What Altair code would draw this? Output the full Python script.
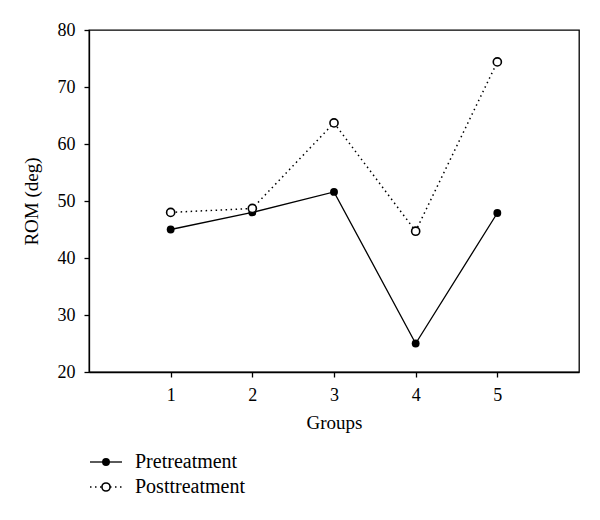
import altair as alt
import pandas as pd

groups = [1, 2, 3, 4, 5]
pretreatment = [45.0, 48.0, 51.6, 25.0, 47.9]
posttreatment = [48.0, 48.7, 63.7, 44.7, 74.4]
series_names = ["Pretreatment", "Posttreatment"]
y_ticks = [20, 30, 40, 50, 60, 70, 80]

pre_df = pd.DataFrame({"group": groups, "rom": pretreatment})
post_df = pd.DataFrame({"group": groups, "rom": posttreatment})
leg_pre = pd.DataFrame({"name": [series_names[0]]})
leg_post = pd.DataFrame({"name": [series_names[1]]})

FONT = "Liberation Serif"
W, H = 490, 342

xscale = alt.Scale(domain=[0, 6], nice=False, zero=False)
yscale = alt.Scale(domain=[20, 80], nice=False, zero=False)

xaxis = alt.Axis(values=groups, format="d", title="Groups", grid=False, tickSize=5, labelPadding=9,
                 titlePadding=9, labelFontSize=18, titleFontSize=19, labelFont=FONT,
                 titleFont=FONT, titleFontWeight="normal", domainColor="black",
                 tickColor="black", labelColor="black", titleColor="black")
yaxis = alt.Axis(values=y_ticks, format="d", title="ROM (deg)", grid=False, tickSize=5, labelPadding=9,
                 titlePadding=16, labelFontSize=18, titleFontSize=19, labelFont=FONT,
                 titleFont=FONT, titleFontWeight="normal", domainColor="black",
                 tickColor="black", labelColor="black", titleColor="black")

pre_line = alt.Chart(pre_df).mark_line(color="black", strokeWidth=1.3).encode(
    x=alt.X("group:Q", scale=xscale, axis=xaxis),
    y=alt.Y("rom:Q", scale=yscale, axis=yaxis),
)
post_line = alt.Chart(post_df).mark_line(color="black", strokeWidth=1.5, strokeDash=[1.5, 3.5]).encode(
    x=alt.X("group:Q", scale=xscale),
    y=alt.Y("rom:Q", scale=yscale),
)
pre_pts = alt.Chart(pre_df).mark_point(shape="circle", filled=True, color="black", size=62, opacity=1).encode(
    x=alt.X("group:Q", scale=xscale),
    y=alt.Y("rom:Q", scale=yscale),
)
post_pts = alt.Chart(post_df).mark_point(shape="circle", filled=True, fill="white", stroke="black",
                                         strokeWidth=1.6, size=66, opacity=1).encode(
    x=alt.X("group:Q", scale=xscale),
    y=alt.Y("rom:Q", scale=yscale),
)

# manual legend below the plot
leg_y1, leg_y2 = 432, 457
leg1_line = alt.Chart(leg_pre).mark_rule(color="black", strokeWidth=1.3).encode(
    x=alt.value(1), x2=alt.value(33), y=alt.value(leg_y1))
leg1_pt = alt.Chart(leg_pre).mark_point(shape="circle", filled=True, color="black", size=62, opacity=1).encode(
    x=alt.value(17), y=alt.value(leg_y1))
leg1_txt = alt.Chart(leg_pre).mark_text(align="left", baseline="middle", font=FONT, fontSize=20,
                                        fontWeight="normal", color="black").encode(
    x=alt.value(46), y=alt.value(leg_y1), text=alt.Text("name:N"))
leg2_line = alt.Chart(leg_post).mark_rule(color="black", strokeWidth=1.5, strokeDash=[1.5, 3.5]).encode(
    x=alt.value(1), x2=alt.value(33), y=alt.value(leg_y2))
leg2_pt = alt.Chart(leg_post).mark_point(shape="circle", filled=True, fill="white", stroke="black",
                                         strokeWidth=1.6, size=66, opacity=1).encode(
    x=alt.value(17), y=alt.value(leg_y2))
leg2_txt = alt.Chart(leg_post).mark_text(align="left", baseline="middle", font=FONT, fontSize=20,
                                         fontWeight="normal", color="black").encode(
    x=alt.value(46), y=alt.value(leg_y2), text=alt.Text("name:N"))

chart = alt.layer(
    pre_line, post_line, pre_pts, post_pts,
    leg1_line, leg1_pt, leg1_txt, leg2_line, leg2_pt, leg2_txt,
).properties(
    width=W, height=H,
    autosize=alt.AutoSizeParams(type="none"),
    padding={"left": 81, "top": 22, "right": 13, "bottom": 140},
).configure_view(stroke="black", strokeWidth=1.3).configure_axis(domainWidth=1.3, tickWidth=1.3)

chart.save("out.html", embed_options={"renderer": "svg", "actions": False})
